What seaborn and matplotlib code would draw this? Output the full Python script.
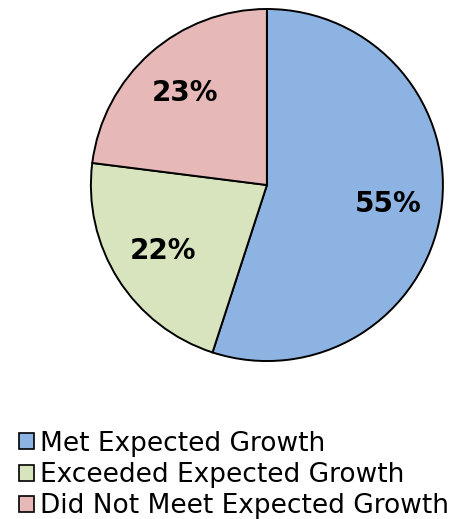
import matplotlib
matplotlib.use("Agg")
import matplotlib.pyplot as plt
import seaborn as sns

categories = ["Met Expected Growth", "Exceeded Expected Growth", "Did Not Meet Expected Growth"]
shares = [55, 22, 23]
colors = ["#8DB3E2", "#D7E4BD", "#E6B9B8"]

sns.set_theme(style="white")
plt.rcParams['font.family'] = ['DejaVu Sans']

fig = plt.figure(figsize=(4.53, 5.19), dpi=100)
ax = fig.add_axes([0.1987, 0.3025, 0.781, 0.682])
wedges, texts, autotexts = ax.pie(
    shares, colors=colors, startangle=90, counterclock=False,
    autopct='%d%%', pctdistance=0.7,
    wedgeprops=dict(edgecolor='black', linewidth=1.4),
    textprops=dict(fontsize=20, fontweight='bold', color='black'))
ax.set_xlim(-1.005, 1.005)
ax.set_ylim(-1.005, 1.005)
ax.set_aspect('equal')

leg = fig.legend(wedges, categories, loc='upper left', bbox_to_anchor=(0.042, 0.170),
                 frameon=False, fontsize=19, handlelength=0.55, handleheight=0.55,
                 handletextpad=0.25, labelspacing=0.2, borderpad=0, borderaxespad=0)
for t in leg.get_texts():
    t.set_color('black')
for h in leg.legend_handles:
    h.set_linewidth(1.2)

fig.savefig("out.png", dpi=100)
